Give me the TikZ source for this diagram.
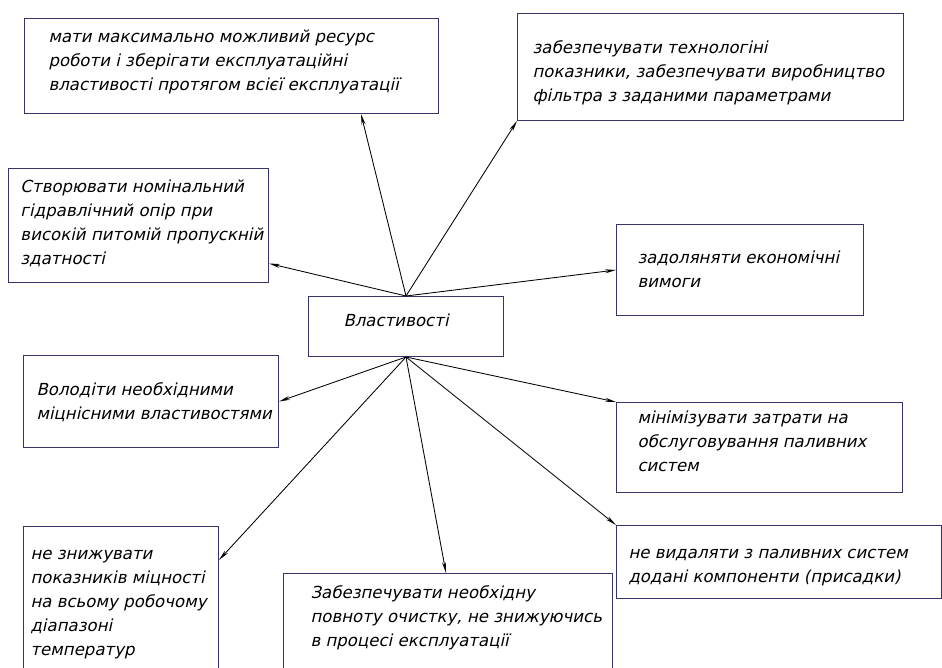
\documentclass[tikz,border=0pt]{standalone}
\usepackage{fontspec}
\setmainfont{DejaVu Sans}
\newfontfamily\gost{DejaVu Sans}[FakeSlant=0.22]
\usetikzlibrary{arrows.meta}
\definecolor{boxline}{HTML}{35356A}
% box of fixed size: width, height, text indent, top gap, lines
\newcommand{\propbox}[5]{\parbox[t][#2][t]{#1}{\vspace*{#4}\hspace*{#3}\begin{tabular}[t]{@{}l@{}}#5\end{tabular}}}

\begin{document}
\begin{tikzpicture}[x=1pt, y=-1pt,
    prop/.style={draw=boxline, line width=1pt, anchor=north west, inner sep=0pt,
      font=\gost\fontsize{16.6}{24}\selectfont},
    link/.style={-{Stealth[length=11pt,width=4pt]}, line width=0.85pt}]
  \clip (0,0) rectangle (942,668);

  \node[prop] (ctr)    at (308,296) {\propbox{195pt}{60pt}{35pt}{13pt}{Властивості}};

  \node[prop] (resurs) at (24,18)   {\propbox{414pt}{95pt}{24pt}{7pt}{мати максимально можливий ресурс\\ роботи і зберігати експлуатаційні\\ властивості протягом всієї експлуатації}};
  \node[prop] (tekhn)  at (517,13)  {\propbox{386pt}{107pt}{15pt}{23pt}{забезпечувати технологіні\\ показники, забезпечувати виробництво\\ фільтра з заданими параметрами}};
  \node[prop] (opir)   at (8,168)   {\propbox{260pt}{114pt}{12pt}{7pt}{Створювати номінальний\\ гідравлічний опір при\\ високій питомій пропускній\\ здатності}};
  \node[prop] (vymohy) at (616,224) {\propbox{247pt}{91pt}{21pt}{22pt}{задоляняти економічні\\ вимоги}};
  \node[prop] (mitsn)  at (23,355)  {\propbox{255pt}{92pt}{13pt}{23pt}{Володіти необхідними\\ міцнісними властивостями}};
  \node[prop] (vytraty) at (616,402) {\propbox{286pt}{90pt}{21pt}{4pt}{мінімізувати затрати на\\ обслуговування паливних\\ систем}};
  \node[prop] (temp)   at (23,526)  {\propbox{195pt}{160pt}{7pt}{16pt}{не знижувати\\ показників міцності\\ на всьому робочому\\ діапазоні\\ температур}};
  \node[prop] (ochyst) at (283,573) {\propbox{329pt}{120pt}{27pt}{8pt}{Забезпечувати необхідну\\ повноту очистку, не знижуючись\\ в процесі експлуатації}};
  \node[prop] (prysad) at (616,525) {\propbox{325pt}{73pt}{12pt}{16pt}{не видаляти з паливних систем\\ додані компоненти (присадки)}};

  \draw[link] (ctr.north) -- ([xshift=-78pt]resurs.south east);
  \draw[link] (ctr.north) -- (tekhn.south west);
  \draw[link] (ctr.north) -- ([yshift=-38pt]opir.east);
  \draw[link] (ctr.north) -- (vymohy.west);
  \draw[link] (ctr.south) -- (mitsn.east);
  \draw[link] (ctr.south) -- (vytraty.north west);
  \draw[link] (ctr.south) -- ([yshift=-34pt]temp.north east);
  \draw[link] (ctr.south) -- ([xshift=-2pt]ochyst.north);
  \draw[link] (ctr.south) -- (prysad.north west);
\end{tikzpicture}
\end{document}
